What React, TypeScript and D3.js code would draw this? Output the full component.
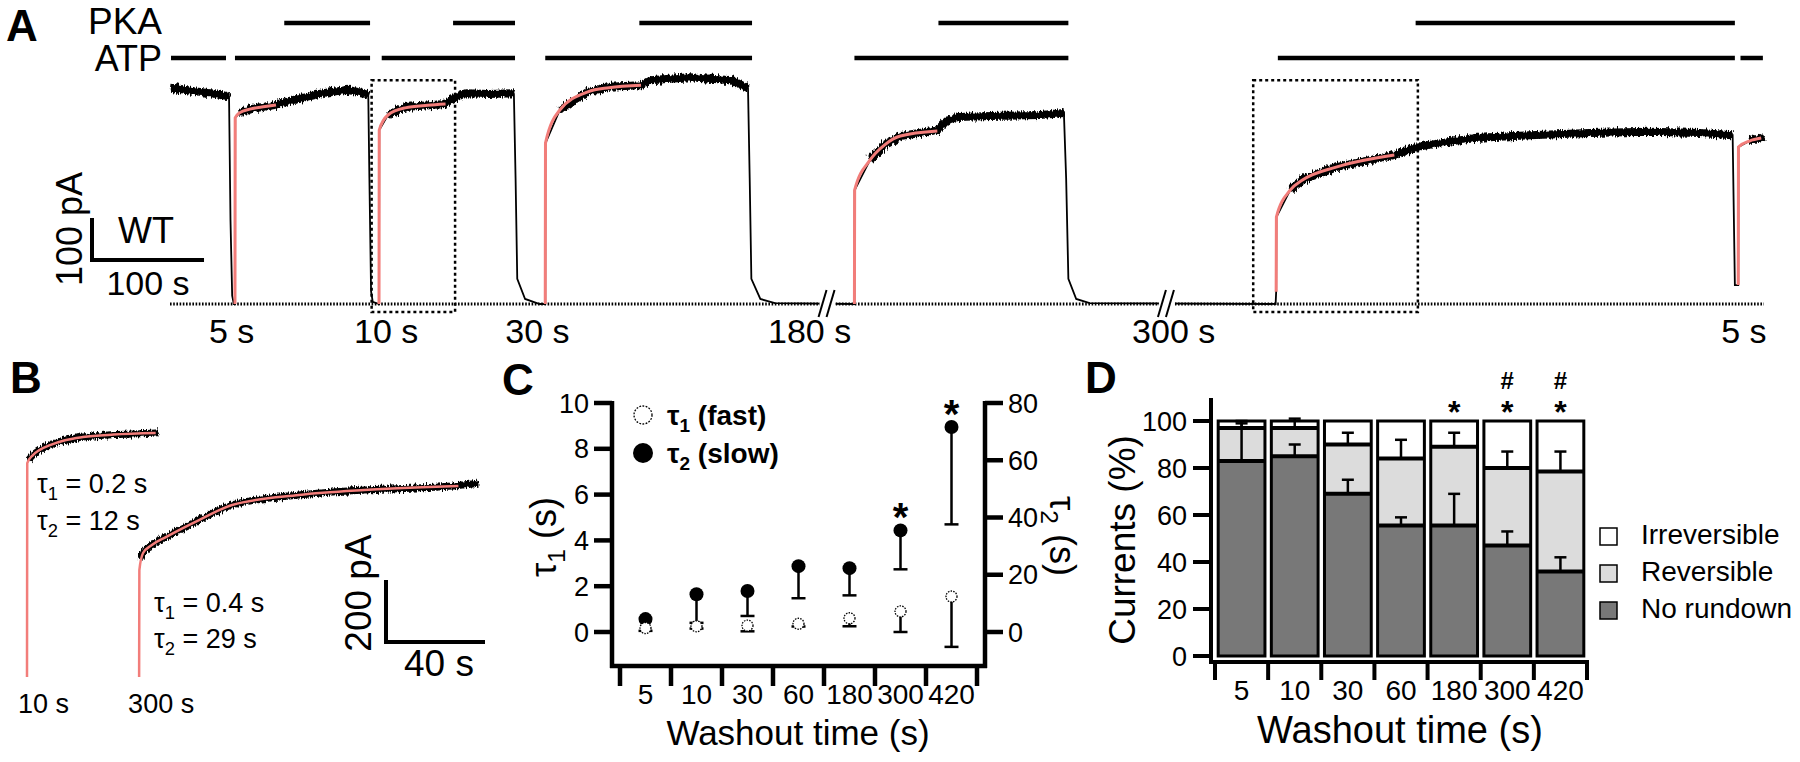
import React from "react";
import * as d3 from "d3";

const FONT = '"Liberation Sans", Arial, Helvetica, sans-serif';
const RED = "#f27d7a";

// ---------------- Panel A (time in s, current in pA) ----------------
const atpBars: [number, number][] = [[0.9, 50], [58, 178.6], [189, 308], [335, 519.6], [611, 802], [989, 1397], [1402, 1422]];
const pkaBars: [number, number][] = [[102, 178.6], [252.7, 308], [419, 519.6], [686, 802], [1112, 1397]];
const traceA: [number, number][] = [
  [0.9, 515], [9, 512], [17.9, 508], [27, 505], [35.7, 502], [44, 498], [50, 496], [52.7, 494], [54, 200], [55.5, 20], [57, 0], [58, 0],
  [58.2, 443], [62, 455], [71.4, 464], [94.6, 474], [100, 479], [118, 490], [136.6, 502], [159, 510], [173, 502], [177, 498],
  [178, 300], [179.5, 30], [181, 5], [186.6, 0],
  [186.8, 414], [194.6, 450], [210, 469], [246, 476], [250, 486], [264, 502], [285, 500], [304.5, 502], [307, 500],
  [308.5, 300], [310, 60], [317, 12], [330, 0], [335, 0],
  [335.2, 383], [348, 462], [373, 505], [392, 517], [420.5, 521], [428.6, 533], [464, 540], [501, 533], [516, 514],
  [517.5, 300], [519, 60], [527, 12], [540, 2], [611, 0],
  [611.2, 271], [625, 343], [638, 379], [652, 400], [685, 414], [692, 433], [703, 445], [741, 448], [777, 450], [798, 455],
  [800, 300], [802, 60], [809, 12], [821, 2], [987, 0], [987.5, 29],
  [987.7, 207], [1000, 271], [1011, 295], [1041, 326], [1093, 355], [1113, 374], [1164, 395], [1214, 402], [1267, 407], [1321, 410], [1366, 407], [1395, 402],
  [1397, 45], [1400, 45],
  [1400.2, 374], [1410, 388], [1420.5, 395], [1423, 398],
];
const noisyRangesA: [number, number][] = [[0.9, 52.7], [60, 177], [188, 307], [337, 516], [613, 798], [989, 1395], [1402, 1423]];
const fitsA: [number, number][][] = [
  [[58, 0], [58.2, 443], [62, 455], [71.4, 464], [85, 470], [94.6, 474]],
  [[186.6, 0], [186.8, 414], [194.6, 450], [210, 467], [230, 473], [246, 476]],
  [[335, 0], [335.2, 383], [348, 462], [373, 505], [392, 515], [420.5, 521]],
  [[611, 0], [611.2, 271], [625, 343], [638, 379], [652, 400], [685, 412]],
  [[987.5, 29], [987.7, 207], [1000, 271], [1011, 295], [1041, 326], [1093, 355]],
  [[1400, 45], [1400.2, 374], [1410, 388], [1420.5, 395]],
];
const breaksA = [587, 890];
const boxesA: [number, number][] = [[180, 254.5], [967, 1114]];
const boxCurrentA: [number, number] = [-19, 533];
const washLabelsA = ["5 s", "10 s", "30 s", "180 s", "300 s", "5 s"];
const washTimesA = [55, 193, 328, 571, 896, 1405];

// ---------------- Panel B ----------------
const fitB: [number, number][][] = [
  [[0, 0], [0.1, 690], [2.4, 716], [5, 732], [9.3, 748], [15, 763], [22.6, 774], [35, 782], [52, 787]],
  [[0, 0], [0.1, 345], [1.6, 400], [5, 425], [11, 452], [24.2, 506], [37.6, 555], [64.6, 587], [91, 603], [129, 616]],
];
const noiseB: [number, number][][] = [
  [[0.6, 700], [2.4, 716], [5, 732], [9.3, 748], [15, 763], [22.6, 774], [35, 782], [52, 787], [53, 790]],
  [[0.8, 380], [1.6, 400], [5, 425], [11, 452], [24.2, 506], [37.6, 555], [64.6, 587], [91, 603], [129, 618], [137, 625]],
];
const startB = [0, 45.3];
const washLabelsB = ["10 s", "300 s"];
const tau1B = ["0.2", "0.4"];
const tau2B = ["12", "29"];

// ---------------- Panel C ----------------
const washout = ["5", "10", "30", "60", "180", "300", "420"];
const tau1 = [0.17, 0.25, 0.28, 0.36, 0.6, 0.9, 1.55];
const tau1Err = [0.12, 0.1, 0.25, 0.12, 0.35, 0.9, 2.2];
const tau2 = [4.5, 13.2, 14.3, 23, 22.3, 35.5, 71.6];
const tau2Err = [0, 10, 8.7, 11.2, 9.5, 13.6, 34];
const tau1Ticks = [0, 2, 4, 6, 8, 10];
const tau2Ticks = [0, 20, 40, 60, 80];
const sigC = ["", "", "", "", "", "*", "*"];

// ---------------- Panel D ----------------
const noRundown = [83, 85, 69, 55.5, 55.5, 47, 36];
const reversible = [14, 12, 21, 28.5, 33.5, 33, 42.5];
const irreversible = [3, 3, 10, 16, 11, 20, 21.5];
const noRundownErr = [17, 5, 6, 3.5, 13.5, 6, 6];
const reversibleErr = [2, 4, 5, 8, 6, 7, 8.5];
const currentTicks = [0, 20, 40, 60, 80, 100];
const starD = ["", "", "", "", "*", "*", "*"];
const hashD = ["", "", "", "", "", "#", "#"];
const legendD = ["Irreversible", "Reversible", "No rundown"];
const legendFillD = ["#ffffff", "#dcdcdc", "#787878"];

type P = [number, number];

// text with a subscript after the first character: head + sub + tail
function SubText(props: { x?: number; y?: number; transform?: string; fs: number; head: string; sub: string; tail: string; bold?: boolean; anchor?: string }) {
  const { x, y, transform, fs, head, sub, tail, bold, anchor } = props;
  const d = fs * 0.25;
  return (
    <text x={x} y={y} transform={transform} fontSize={fs} fontWeight={bold ? "bold" : "normal"} textAnchor={anchor || "start"}>
      {head}
      <tspan dy={d} fontSize={fs * 0.68}>{sub}</tspan>
      <tspan dy={-d}>{tail}</tspan>
    </text>
  );
}

export default function App() {
  // ---- A scales
  const xA = d3.scaleLinear().domain([0, 1423]).range([170, 1764]);
  const yA = d3.scaleLinear().domain([0, 100]).range([304, 262]);
  const lineA = d3.line<P>().x((d) => xA(d[0])).y((d) => yA(d[1]));
  const fitLineA = d3.line<P>().x((d) => xA(d[0])).y((d) => yA(d[1])).curve(d3.curveMonotoneX);

  // ---- B scales
  const xB = d3.scaleLinear().domain([0, 200]).range([27, 27 + 495]);
  const yB = d3.scaleLinear().domain([0, 200]).range([677, 615]);

  // ---- C scales
  const xC = d3.scaleBand<string>().domain(washout).range([620, 977]);
  const yL = d3.scaleLinear().domain([0, 10]).range([632, 403]);
  const yR = d3.scaleLinear().domain([0, 80]).range([632, 403]);
  const cxC = (c: string) => (xC(c) as number) + xC.bandwidth() / 2;
  const ticksCx = [...washout.map((c) => xC(c) as number), (xC(washout[6]) as number) + xC.step()];

  // ---- D scales
  const xD = d3.scaleBand<string>().domain(washout).range([1215, 1587]).paddingInner(0.12).paddingOuter(0.06);
  const yD = d3.scaleLinear().domain([0, 100]).range([656, 421]);
  const gapD = (xD.step() - xD.bandwidth()) / 2;
  const ticksDx = [...washout.map((c) => (xD(c) as number) - gapD), (xD(washout[6]) as number) + xD.bandwidth() + gapD];

  return (
    <svg width={1800} height={762} style={{ position: "absolute", left: 0, top: 0, background: "#fff" }} fontFamily={FONT}>
      <defs>
        <filter id="noisy" filterUnits="userSpaceOnUse" x={0} y={0} width={1800} height={762}>
          <feTurbulence type="fractalNoise" baseFrequency="0.8 0.1" numOctaves={2} seed={3} result="turb" />
          <feDisplacementMap in="SourceGraphic" in2="turb" scale={7} xChannelSelector="R" yChannelSelector="G" />
        </filter>
      </defs>
      <rect x={0} y={0} width={1800} height={762} fill="#fff" />
      {/* ================= Panel A ================= */}
      <text x={6} y={41} fontSize={44} fontWeight="bold">A</text>
      <text x={162} y={34} fontSize={37} textAnchor="end">PKA</text>
      <text x={162} y={71} fontSize={36} textAnchor="end">ATP</text>
      {pkaBars.map((b, i) => (
        <line key={"pka" + i} x1={xA(b[0])} x2={xA(b[1])} y1={23} y2={23} stroke="#000" strokeWidth={4.5} />
      ))}
      {atpBars.map((b, i) => (
        <line key={"atp" + i} x1={xA(b[0])} x2={xA(b[1])} y1={58} y2={58} stroke="#000" strokeWidth={4.5} />
      ))}
      {/* baseline */}
      <line x1={xA(0)} x2={xA(1423)} y1={yA(0)} y2={yA(0)} stroke="#000" strokeWidth={3} strokeDasharray="1.6 1.6" />
      {/* dotted boxes */}
      {boxesA.map((b, i) => (
        <rect key={"box" + i} x={xA(b[0])} y={yA(boxCurrentA[1])} width={xA(b[1]) - xA(b[0])} height={yA(boxCurrentA[0]) - yA(boxCurrentA[1])}
          fill="none" stroke="#000" strokeWidth={2.5} strokeDasharray="3 3" />
      ))}
      {/* thin trace */}
      <path d={lineA(traceA) || ""} fill="none" stroke="#000" strokeWidth={1.8} />
      {/* noisy plateau segments */}
      {noisyRangesA.map((r, i) => {
        const seg = lineA(traceA.filter((p) => p[0] >= r[0] && p[0] <= r[1])) || "";
        return (
          <g key={"noise" + i}>
            <path d={seg} fill="none" stroke="#000" strokeWidth={5} strokeLinejoin="round" />
            <path d={seg} fill="none" stroke="#000" strokeWidth={8} strokeLinejoin="round" filter="url(#noisy)" />
          </g>
        );
      })}
      {fitsA.map((f, i) => (
        <path key={"fit" + i} d={fitLineA(f) || ""} fill="none" stroke={RED} strokeWidth={3} />
      ))}
      {/* breaks */}
      {breaksA.map((t, i) => (
        <g key={"brk" + i}>
          <rect x={xA(t) - 8} y={yA(0) - 14} width={16} height={28} fill="#fff" />
          <line x1={xA(t) - 9} y1={yA(0) + 13} x2={xA(t) - 1} y2={yA(0) - 14} stroke="#000" strokeWidth={2} />
          <line x1={xA(t) - 1} y1={yA(0) + 13} x2={xA(t) + 7} y2={yA(0) - 14} stroke="#000" strokeWidth={2} />
        </g>
      ))}
      {washTimesA.map((t, i) => (
        <text key={"wl" + i} x={xA(t)} y={343} fontSize={34} textAnchor="middle">{washLabelsA[i]}</text>
      ))}
      {/* scale bar A */}
      <path d={`M${92},${260 - (yA(0) - yA(100))}V${260}H${92 + xA(100) - xA(0)}`} fill="none" stroke="#000" strokeWidth={4} />
      <text x={146} y={243} fontSize={36} textAnchor="middle">WT</text>
      <text x={148} y={295} fontSize={34} textAnchor="middle">100 s</text>
      <text transform="translate(82,229) rotate(-90)" fontSize={36} textAnchor="middle">100 pA</text>

      {/* ================= Panel B ================= */}
      <text x={10} y={393} fontSize={44} fontWeight="bold">B</text>
      {fitB.map((f, i) => {
        const lnN = d3.line<P>().x((d) => xB(d[0] + startB[i])).y((d) => yB(d[1])).curve(d3.curveMonotoneX);
        const lnF = d3.line<P>().x((d) => xB(d[0] + startB[i])).y((d) => yB(d[1])).curve(d3.curveMonotoneX);
        const nd = lnN(noiseB[i]) || "";
        return (
          <g key={"b" + i}>
            <path d={nd} fill="none" stroke="#000" strokeWidth={4} strokeLinejoin="round" />
            <path d={nd} fill="none" stroke="#000" strokeWidth={7} strokeLinejoin="round" filter="url(#noisy)" />
            <path d={lnF(f) || ""} fill="none" stroke={RED} strokeWidth={2.5} />
          </g>
        );
      })}
      <text x={xB(startB[0]) - 9} y={713} fontSize={27}>{washLabelsB[0]}</text>
      <text x={xB(startB[1]) - 11} y={713} fontSize={27}>{washLabelsB[1]}</text>
      <SubText x={37} y={493} fs={27} head="τ" sub="1" tail={` = ${tau1B[0]} s`} />
      <SubText x={37} y={530} fs={27} head="τ" sub="2" tail={` = ${tau2B[0]} s`} />
      <SubText x={154} y={612} fs={27} head="τ" sub="1" tail={` = ${tau1B[1]} s`} />
      <SubText x={154} y={648} fs={27} head="τ" sub="2" tail={` = ${tau2B[1]} s`} />
      <path d={`M${386},${642 - (yB(0) - yB(200))}V${642}H${386 + xB(40) - xB(0)}`} fill="none" stroke="#000" strokeWidth={4} />
      <text transform="translate(371,593) rotate(-90)" fontSize={37} textAnchor="middle">200 pA</text>
      <text x={439} y={676} fontSize={37} textAnchor="middle">40 s</text>

      {/* ================= Panel C ================= */}
      <text x={502} y={395} fontSize={44} fontWeight="bold">C</text>
      <g stroke="#000" strokeWidth={4.5}>
        <line x1={612} x2={612} y1={401} y2={668} />
        <line x1={985} x2={985} y1={401} y2={668} />
        <line x1={610} x2={987} y1={666} y2={666} />
        {tau1Ticks.map((t) => <line key={"lt" + t} x1={594} x2={612} y1={yL(t)} y2={yL(t)} />)}
        {tau2Ticks.map((t) => <line key={"rt" + t} x1={985} x2={1003} y1={yR(t)} y2={yR(t)} />)}
        {ticksCx.map((x, i) => <line key={"bt" + i} x1={x} x2={x} y1={666} y2={686} />)}
      </g>
      {tau1Ticks.map((t) => (
        <text key={"ll" + t} x={589} y={yL(t) + 9.5} fontSize={27} textAnchor="end">{t}</text>
      ))}
      {tau2Ticks.map((t) => (
        <text key={"rl" + t} x={1008} y={yR(t) + 9.5} fontSize={27}>{t}</text>
      ))}
      {washout.map((c) => (
        <text key={"cx" + c} x={cxC(c)} y={704} fontSize={28} textAnchor="middle">{c}</text>
      ))}
      <text x={798} y={745} fontSize={35} textAnchor="middle">Washout time (s)</text>
      <SubText transform="translate(556,537) rotate(-90)" fs={36} head="τ" sub="1" tail=" (s)" anchor="middle" />
      <SubText transform="translate(1050,536) rotate(90)" fs={36} head="τ" sub="2" tail=" (s)" anchor="middle" />
      {/* error bars */}
      <g stroke="#000" strokeWidth={2.5}>
        {washout.map((c, i) => (
          tau2Err[i] > 0 ? (
            <g key={"e2" + c}>
              <line x1={cxC(c)} x2={cxC(c)} y1={yR(tau2[i])} y2={yR(tau2[i] - tau2Err[i])} />
              <line x1={cxC(c) - 7} x2={cxC(c) + 7} y1={yR(tau2[i] - tau2Err[i])} y2={yR(tau2[i] - tau2Err[i])} />
            </g>
          ) : null
        ))}
        {washout.map((c, i) => (
          <g key={"e1" + c}>
            <line x1={cxC(c)} x2={cxC(c)} y1={yL(tau1[i])} y2={yL(tau1[i] - tau1Err[i])} />
            <line x1={cxC(c) - 7} x2={cxC(c) + 7} y1={yL(tau1[i] - tau1Err[i])} y2={yL(tau1[i] - tau1Err[i])} />
          </g>
        ))}
      </g>
      {washout.map((c, i) => (
        <circle key={"p2" + c} cx={cxC(c)} cy={yR(tau2[i])} r={7} fill="#000" />
      ))}
      {washout.map((c, i) => (
        <circle key={"p1" + c} cx={cxC(c)} cy={yL(tau1[i])} r={5.5} fill="#fff" stroke="#000" strokeWidth={1.3} strokeDasharray="1.5 1.2" />
      ))}
      {washout.map((c, i) => (
        sigC[i] ? <text key={"sc" + c} x={cxC(c)} y={yR(tau2[i]) + 1} fontSize={40} fontWeight="bold" textAnchor="middle">{sigC[i]}</text> : null
      ))}
      {/* legend C */}
      <circle cx={643} cy={415} r={9} fill="#fff" stroke="#000" strokeWidth={1.3} strokeDasharray="1.8 1.4" />
      <circle cx={643} cy={453} r={10} fill="#000" />
      <SubText x={667} y={425} fs={28} head="τ" sub="1" tail=" (fast)" bold />
      <SubText x={667} y={463} fs={28} head="τ" sub="2" tail=" (slow)" bold />

      {/* ================= Panel D ================= */}
      <text x={1085} y={393} fontSize={44} fontWeight="bold">D</text>
      {washout.map((c, i) => {
        const x = xD(c) as number;
        const w = xD.bandwidth();
        const t1 = noRundown[i];
        const t2 = noRundown[i] + reversible[i];
        const t3 = t2 + irreversible[i];
        return (
          <g key={"bar" + c}>
            <rect x={x} y={yD(t1)} width={w} height={yD(0) - yD(t1)} fill="#787878" />
            <rect x={x} y={yD(t2)} width={w} height={yD(t1) - yD(t2)} fill="#dcdcdc" />
            <rect x={x} y={yD(t3)} width={w} height={yD(t2) - yD(t3)} fill="#ffffff" />
            <rect x={x} y={yD(t3)} width={w} height={yD(0) - yD(t3)} fill="none" stroke="#000" strokeWidth={3} />
            <line x1={x} x2={x + w} y1={yD(t1)} y2={yD(t1)} stroke="#000" strokeWidth={4} />
            <line x1={x} x2={x + w} y1={yD(t2)} y2={yD(t2)} stroke="#000" strokeWidth={4} />
            <g stroke="#000" strokeWidth={2.5}>
              <line x1={x + w / 2} x2={x + w / 2} y1={yD(t1)} y2={yD(t1 + noRundownErr[i])} />
              <line x1={x + w / 2 - 6} x2={x + w / 2 + 6} y1={yD(t1 + noRundownErr[i])} y2={yD(t1 + noRundownErr[i])} />
              <line x1={x + w / 2} x2={x + w / 2} y1={yD(t2)} y2={yD(t2 + reversibleErr[i])} />
              <line x1={x + w / 2 - 6} x2={x + w / 2 + 6} y1={yD(t2 + reversibleErr[i])} y2={yD(t2 + reversibleErr[i])} />
            </g>
            {starD[i] ? <text x={x + w / 2} y={423} fontSize={32} fontWeight="bold" textAnchor="middle">{starD[i]}</text> : null}
            {hashD[i] ? <text x={x + w / 2} y={389} fontSize={24} fontWeight="bold" textAnchor="middle">{hashD[i]}</text> : null}
          </g>
        );
      })}
      <g stroke="#000" strokeWidth={4}>
        <line x1={1211} x2={1211} y1={398} y2={664} />
        <line x1={1209} x2={1589} y1={662} y2={662} />
        {currentTicks.map((t) => <line key={"dt" + t} x1={1193} x2={1211} y1={yD(t)} y2={yD(t)} />)}
        {ticksDx.map((x, i) => <line key={"dbt" + i} x1={x} x2={x} y1={662} y2={680} />)}
      </g>
      {currentTicks.map((t) => (
        <text key={"dl" + t} x={1187} y={yD(t) + 9.5} fontSize={27} textAnchor="end">{t}</text>
      ))}
      {washout.map((c) => (
        <text key={"dx" + c} x={(xD(c) as number) + xD.bandwidth() / 2} y={700} fontSize={28} textAnchor="middle">{c}</text>
      ))}
      <text x={1400} y={743} fontSize={38} textAnchor="middle">Washout time (s)</text>
      <text transform="translate(1135,540) rotate(-90)" fontSize={37} textAnchor="middle">Currents (%)</text>
      {legendD.map((l, i) => (
        <g key={"lg" + l}>
          <rect x={1600} y={528 + i * 37} width={17} height={17} fill={legendFillD[i]} stroke="#000" strokeWidth={1.5} />
          <text x={1641} y={544 + i * 37} fontSize={28}>{l}</text>
        </g>
      ))}
    </svg>
  );
}
